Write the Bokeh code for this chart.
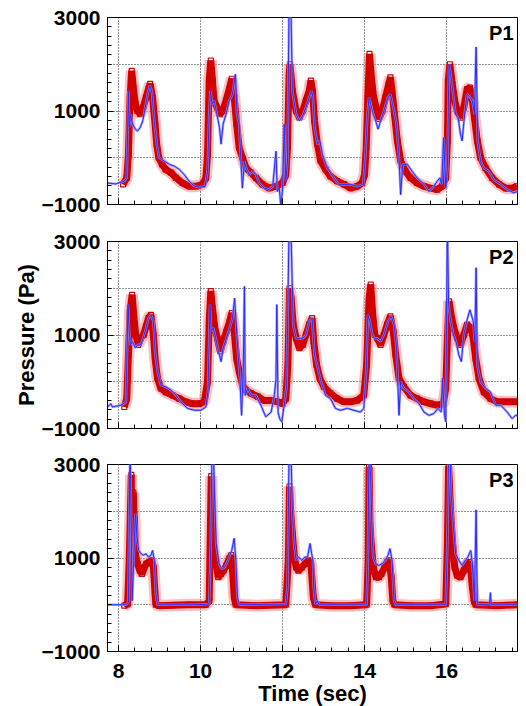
from bokeh.plotting import figure
from bokeh.layouts import column
from bokeh.models import SingleIntervalTicker, FixedTicker, Range1d, Label
from bokeh.embed import file_html
from bokeh.resources import INLINE

# ---------------- data (time in s, pressure in Pa) ----------------
P1_RED_T = [8.11, 8.20, 8.24, 8.28, 8.32, 8.36, 8.41, 8.46, 8.53, 8.60, 8.67, 8.73, 8.77, 8.83, 8.89, 8.93, 8.98,
            9.06, 9.15, 9.28, 9.40, 9.56, 9.72, 9.89, 10.05, 10.13, 10.17, 10.21, 10.25, 10.29, 10.33, 10.40, 10.47,
            10.54, 10.62, 10.70, 10.76, 10.82, 10.88, 10.94, 11.02, 11.11, 11.23, 11.35, 11.51, 11.67, 11.84, 12.00,
            12.08, 12.12, 12.16, 12.18, 12.24, 12.33, 12.41, 12.49, 12.57, 12.65, 12.69, 12.73, 12.78, 12.85, 12.93,
            13.05, 13.17, 13.33, 13.50, 13.66, 13.82, 13.94, 14.00, 14.04, 14.08, 14.12, 14.16, 14.21, 14.28, 14.35,
            14.43, 14.51, 14.59, 14.63, 14.67, 14.73, 14.80, 14.88, 15.00, 15.12, 15.28, 15.45, 15.61, 15.77, 15.89,
            15.98, 16.02, 16.04, 16.08, 16.14, 16.20, 16.26, 16.34, 16.42, 16.50, 16.57, 16.63, 16.68, 16.75, 16.83,
            16.95, 17.11, 17.28, 17.44, 17.60, 17.72]
P1_RED_V = [-570, -430, 70, 1290, 1860, 1500, 1150, 1000, 930, 1075, 1290, 1470, 1580, 1290, 720, 290, 0,
            -140, -250, -320, -430, -540, -610, -610, -570, -430, 70, 1650, 2080, 1650, 1220, 1075, 930,
            1000, 1220, 1470, 1690, 1290, 720, 220, 0, -220, -320, -430, -570, -650, -610, -540,
            -360, 220, 1790, 2000, 1430, 1000, 860, 1000, 1220, 1430, 1650, 1430, 790, 290, -70,
            -250, -400, -500, -570, -650, -610, -540, -360, 220, 1290, 2220, 1790, 1360, 1075, 830,
            1000, 1290, 1580, 1720, 1430, 930, 360, -70, -290, -430, -540, -610, -650, -680, -610,
            -430, 360, 1650, 2000, 1580, 1220, 1000, 860, 1075, 1470, 1500, 1220, 860, 360, 0,
            -220, -430, -570, -650, -650, -610]

P1_BLUE_T = [7.73, 7.93, 8.14, 8.20, 8.24, 8.26, 8.29, 8.34, 8.41, 8.46, 8.53, 8.59, 8.65, 8.71, 8.76, 8.81, 8.87,
             8.93, 8.99, 9.11, 9.24, 9.36, 9.48, 9.60, 9.72, 9.85, 9.97, 10.11, 10.17, 10.21, 10.24, 10.28, 10.33,
             10.40, 10.46, 10.50, 10.55, 10.62, 10.70, 10.78, 10.85, 10.89, 10.94, 10.98, 11.02, 11.07, 11.11, 11.19,
             11.27, 11.35, 11.43, 11.55, 11.67, 11.76, 11.84, 11.87, 11.92, 11.96, 12.00, 12.04, 12.08, 12.12, 12.16,
             12.20, 12.24, 12.33, 12.41, 12.49, 12.57, 12.65, 12.71, 12.74, 12.78, 12.85, 12.91, 12.97, 13.09, 13.25,
             13.37, 13.50, 13.66, 13.82, 13.97, 14.02, 14.07, 14.11, 14.15, 14.21, 14.27, 14.33, 14.39, 14.47, 14.57,
             14.63, 14.72, 14.78, 14.84, 14.88, 14.93, 15.04, 15.16, 15.28, 15.45, 15.57, 15.69, 15.77, 15.84, 15.88,
             15.93, 15.98, 16.02, 16.06, 16.10, 16.17, 16.22, 16.28, 16.34, 16.38, 16.44, 16.50, 16.57, 16.63, 16.68,
             16.72, 16.76, 16.83, 16.91, 17.03, 17.15, 17.32, 17.48, 17.64, 17.73]
P1_BLUE_V = [-540, -560, -500, -430, 1430, 650, 930, 720, 610, 570, 650, 790, 1075, 1360, 1540, 1430, 790,
             290, 0, -70, -140, -180, -250, -360, -500, -610, -630, -610, -290, 930, 1430, 1150, 1220,
             930, 650, 290, 720, 930, 1220, 1360, 1790, 930, 720, 0, -650, -70, -220, -360,
             -290, -360, -540, -650, -680, -610, 140, -720, -650, -1050, -650, 720, -500, -70, 3400,
             3400, 1430, 930, 790, 900, 1075, 1290, 1430, 1290, 650, 290, 360, 70, -220, -430,
             -570, -570, -570, -610, -570, 70, 930, 1290, 1150, 930, 790, 610, 790, 1000, 1290,
             1360, 1000, 720, 0, -790, -140, -140, -290, -430, -570, -720, -610, -500, -430, -570,
             430, -650, -220, 2000, 1790, 1290, 930, 860, 500, 360, 930, 1360, 1290, 1220, 930,
             2370, 360, -70, -220, -290, -470, -570, -680, -750, -720]

P2_RED_T = [8.14, 8.20, 8.24, 8.28, 8.33, 8.37, 8.42, 8.48, 8.54, 8.61, 8.67, 8.73, 8.79, 8.85, 8.89, 8.95, 9.03,
            9.15, 9.32, 9.48, 9.64, 9.80, 9.97, 10.09, 10.17, 10.21, 10.25, 10.29, 10.35, 10.41, 10.48, 10.55, 10.63,
            10.71, 10.76, 10.82, 10.88, 10.94, 11.02, 11.11, 11.23, 11.40, 11.55, 11.72, 11.88, 12.00, 12.08, 12.13,
            12.17, 12.21, 12.26, 12.33, 12.41, 12.49, 12.57, 12.65, 12.72, 12.76, 12.83, 12.91, 13.01, 13.17, 13.33,
            13.50, 13.66, 13.82, 13.98, 14.05, 14.11, 14.15, 14.20, 14.25, 14.31, 14.39, 14.47, 14.55, 14.63, 14.70,
            14.76, 14.84, 14.96, 15.12, 15.28, 15.45, 15.61, 15.77, 15.92, 15.98, 16.02, 16.06, 16.11, 16.18, 16.26,
            16.34, 16.42, 16.50, 16.59, 16.65, 16.71, 16.79, 16.91, 17.07, 17.24, 17.40, 17.56, 17.72]
P2_RED_V = [-540, -360, 570, 1500, 1860, 1430, 1000, 790, 930, 1000, 1180, 1360, 1430, 1000, 500, 70, -140,
            -220, -290, -360, -430, -470, -470, -430, 0, 1290, 1940, 1580, 1150, 930, 650, 860, 1075,
            1290, 1470, 1075, 500, 220, -70, -180, -250, -320, -400, -400, -430, -470, -360, 360,
            2000, 1790, 1220, 930, 720, 790, 1000, 1220, 1360, 860, 360, 70, -110, -250, -360,
            -430, -430, -400, -290, 360, 1790, 2080, 1430, 1000, 930, 790, 1000, 1220, 1400, 1075,
            570, 70, -110, -290, -360, -430, -470, -500, -470, -140, 930, 1720, 1430, 1150, 930,
            790, 1000, 1220, 1150, 930, 500, 70, -220, -360, -430, -430, -430, -430]

P2_BLUE_T = [7.73, 7.81, 7.85, 8.06, 8.18, 8.23, 8.26, 8.29, 8.34, 8.41, 8.47, 8.54, 8.60, 8.67, 8.73, 8.79, 8.85,
             8.89, 8.95, 9.03, 9.15, 9.28, 9.40, 9.52, 9.68, 9.85, 10.01, 10.13, 10.18, 10.23, 10.26, 10.31, 10.37,
             10.44, 10.50, 10.55, 10.63, 10.71, 10.78, 10.83, 10.86, 10.91, 10.96, 11.00, 11.04, 11.07, 11.09, 11.15,
             11.23, 11.35, 11.47, 11.59, 11.72, 11.80, 11.84, 11.86, 11.89, 11.93, 11.98, 12.04, 12.10, 12.16, 12.20,
             12.26, 12.33, 12.41, 12.49, 12.57, 12.65, 12.72, 12.78, 12.86, 12.94, 13.05, 13.17, 13.29, 13.41, 13.58,
             13.74, 13.90, 13.98, 14.04, 14.08, 14.13, 14.19, 14.24, 14.31, 14.39, 14.47, 14.57, 14.65, 14.72, 14.78,
             14.84, 14.88, 14.96, 15.08, 15.20, 15.33, 15.45, 15.57, 15.69, 15.79, 15.87, 15.90, 15.95, 15.98, 16.02,
             16.05, 16.10, 16.17, 16.23, 16.30, 16.36, 16.42, 16.49, 16.57, 16.65, 16.69, 16.72, 16.75, 16.83, 16.95,
             17.07, 17.20, 17.32, 17.48, 17.60, 17.68, 17.73]
P2_BLUE_V = [-540, -470, -540, -500, -430, 1650, 1075, 790, 860, 720, 790, 790, 930, 1150, 1360, 1430, 1290,
             650, 220, -70, -110, -180, -290, -430, -570, -610, -610, -540, -220, 1650, 1075, 1150, 930,
             650, 430, 720, 930, 1150, 1360, 1790, 1360, 650, 70, -720, 220, 2040, -290, -140,
             -290, -290, -500, -750, -650, -290, 70, 1650, -650, -790, -860, -500, -70, 3400, 3400,
             1220, 930, 930, 930, 1000, 1290, 1360, 570, 290, 0, -290, -360, -570, -610, -570,
             -610, -650, -570, 220, 1430, 1290, 1000, 930, 930, 860, 1000, 1290, 1400, 1220, 720,
             -720, 0, -140, -220, -360, -470, -650, -720, -680, -570, -650, 70, -720, -860, 3400,
             1650, 1290, 1000, 860, 570, 430, 1000, 1290, 1540, 1290, 860, 2440, 360, 0, -140,
             -220, -500, -500, -650, -790, -720, -720]

P3_RED_T = [8.14, 8.22, 8.26, 8.28, 8.31, 8.32, 8.36, 8.37, 8.39, 8.41, 8.46, 8.52, 8.57, 8.63, 8.68, 8.75, 8.81,
            8.85, 8.89, 8.91, 8.99, 9.32, 9.72, 10.13, 10.21, 10.24, 10.26, 10.29, 10.33, 10.37, 10.43, 10.50, 10.56,
            10.63, 10.70, 10.75, 10.78, 10.82, 10.86, 11.35, 12.08, 12.14, 12.17, 12.20, 12.24, 12.28, 12.33, 12.39,
            12.47, 12.55, 12.63, 12.69, 12.75, 12.80, 13.17, 13.66, 14.05, 14.09, 14.11, 14.13, 14.15, 14.19, 14.23,
            14.28, 14.35, 14.41, 14.49, 14.55, 14.60, 14.65, 14.69, 14.73, 15.12, 15.61, 15.98, 16.02, 16.05, 16.08,
            16.11, 16.15, 16.20, 16.26, 16.34, 16.42, 16.49, 16.54, 16.59, 16.63, 16.67, 16.71, 17.24, 17.73]
P3_RED_V = [-20, 15, 950, 1670, 2780, 1450, 2400, 2030, 1810, 1090, 880, 730, 660, 800, 880, 910, 950,
            800, 230, 0, -20, -10, 0, 0, 85, 1670, 2750, 1670, 1090, 950, 590, 660, 730,
            840, 985, 1060, 730, 160, 0, -20, 0, 950, 2530, 1950, 1520, 1090, 800, 730,
            800, 880, 950, 880, 160, 0, -20, -20, 0, 950, 2950, 1810, 1450, 1020, 730,
            590, 590, 660, 800, 910, 950, 590, 85, 0, -20, -20, 15, 1310, 2960, 2390,
            1810, 1310, 800, 620, 590, 730, 880, 910, 730, 370, 85, 0, -20, 0]

P3_BLUE_T = [7.73, 8.18, 8.24, 8.28, 8.30, 8.33, 8.37, 8.41, 8.45, 8.49, 8.55, 8.60, 8.67, 8.73, 8.79, 8.83, 8.87,
             8.91, 8.95, 9.89, 10.21, 10.25, 10.28, 10.31, 10.34, 10.38, 10.45, 10.51, 10.59, 10.67, 10.76, 10.82,
             10.86, 10.90, 10.94, 12.08, 12.12, 12.16, 12.20, 12.24, 12.28, 12.33, 12.39, 12.47, 12.55, 12.61, 12.67,
             12.71, 12.74, 12.76, 12.80, 12.85, 12.89, 14.05, 14.08, 14.11, 14.15, 14.18, 14.21, 14.27, 14.35, 14.43,
             14.51, 14.57, 14.62, 14.67, 14.72, 14.76, 15.98, 16.02, 16.05, 16.08, 16.11, 16.17, 16.22, 16.30, 16.38,
             16.46, 16.52, 16.59, 16.63, 16.68, 16.72, 16.75, 17.05, 17.07, 17.09, 17.73]
P3_BLUE_V = [0, 0, 50, 3400, 2390, 85, 950, 1950, 1450, 1160, 1090, 1060, 1090, 1020, 1060, 1160, 950,
             230, 0, 0, 15, 1310, 3400, 3400, 2390, 1310, 880, 770, 800, 950, 1160, 1420,
             950, 160, 0, 15, 370, 3400, 3400, 2030, 1310, 950, 1020, 950, 1020, 1020, 1310,
             1090, 950, 370, 15, 85, 0, 0, 950, 3400, 2670, 1670, 1020, 880, 840, 880,
             950, 1060, 1200, 950, 85, 0, 0, 1310, 3400, 3400, 2390, 1670, 1090, 950, 840,
             950, 1020, 1160, 880, 85, 2030, 0, 15, 260, 0, 0]

PANELS = ["P1", "P2", "P3"]
X_TICKS = [8, 10, 12, 14, 16]
Y_TICKS = [-1000, 1000, 3000]
X_START, X_END = 7.73, 17.73
Y_START, Y_END = -1000, 3000

FONT = "Liberation Sans"


def make_panel(name, red_t, red_v, blue_t, blue_v, top, bottom, xlabels, ylabel):
    p = figure(frame_width=410, frame_height=187,
               x_range=Range1d(X_START, X_END), y_range=Range1d(Y_START, Y_END),
               output_backend="svg", toolbar_location=None,
               min_border_left=107, min_border_right=2,
               min_border_top=top, min_border_bottom=bottom)
    p.background_fill_color = "white"
    p.border_fill_color = "white"
    p.outline_line_color = "black"
    p.outline_line_width = 1

    # red measured band
    p.line(red_t, red_v, line_color="#f29090", line_width=12, line_alpha=0.55)
    p.line(red_t, red_v, line_color="#d40000", line_width=7)
    p.scatter(red_t, red_v, marker="square", size=5, fill_alpha=0,
              line_color="#cc0000", line_width=1.2)
    # blue simulated lines
    p.line(blue_t, blue_v, line_color="#8c8cff", line_width=2.5, line_alpha=0.8)
    p.line(blue_t, blue_v, line_color="#2a2aff", line_width=1)

    p.xaxis.ticker = SingleIntervalTicker(interval=2, num_minor_ticks=5)
    p.xgrid.ticker = FixedTicker(ticks=X_TICKS)
    p.yaxis.ticker = FixedTicker(ticks=Y_TICKS, minor_ticks=list(range(-1000, 3001, 200)))
    p.ygrid.ticker = SingleIntervalTicker(interval=1000)

    for g in (p.xgrid, p.ygrid):
        g.grid_line_color = "#222222"
        g.grid_line_dash = "1 2"
        g.grid_line_width = 1

    for ax in (p.xaxis, p.yaxis):
        ax.axis_line_color = "black"
        ax.major_tick_in = 6
        ax.major_tick_out = 0
        ax.minor_tick_in = 4
        ax.minor_tick_out = 0
        ax.major_tick_line_color = "black"
        ax.minor_tick_line_color = "black"
        ax.major_label_text_font = FONT
        ax.major_label_text_font_style = "bold"
        ax.major_label_text_font_size = "21px"
        ax.major_label_text_color = "black"
        ax.axis_label_text_color = "black"
    p.yaxis.major_label_standoff = 7

    if xlabels:
        p.xaxis.major_label_standoff = 12
        p.xaxis.axis_label = "Time (sec)"
        p.xaxis.axis_label_text_font = FONT
        p.xaxis.axis_label_text_font_style = "bold"
        p.xaxis.axis_label_text_font_size = "22px"
        p.xaxis.axis_label_standoff = 0
    else:
        p.xaxis.major_label_overrides = {t: "" for t in X_TICKS}
        p.xaxis.major_label_standoff = 0

    if ylabel:
        p.yaxis.axis_label = ylabel
        p.yaxis.axis_label_text_font = FONT
        p.yaxis.axis_label_text_font_style = "bold"
        p.yaxis.axis_label_text_font_size = "22px"
        p.yaxis.axis_label_standoff = 0

    p.add_layout(Label(x=X_END, y=Y_END, x_offset=-4, y_offset=-4, text=name,
                       text_align="right", text_baseline="top", text_font=FONT,
                       text_font_style="bold", text_font_size="20px", text_color="black"))
    return p


f1 = make_panel(PANELS[0], P1_RED_T, P1_RED_V, P1_BLUE_T, P1_BLUE_V, 17, 17, False, None)
f2 = make_panel(PANELS[1], P2_RED_T, P2_RED_V, P2_BLUE_T, P2_BLUE_V, 20, 17, False, "Pressure (Pa)")
f3 = make_panel(PANELS[2], P3_RED_T, P3_RED_V, P3_BLUE_T, P3_BLUE_V, 19, 53, True, None)

layout = column(f1, f2, f3, spacing=0)
open("out.html", "w").write(file_html(layout, INLINE))
